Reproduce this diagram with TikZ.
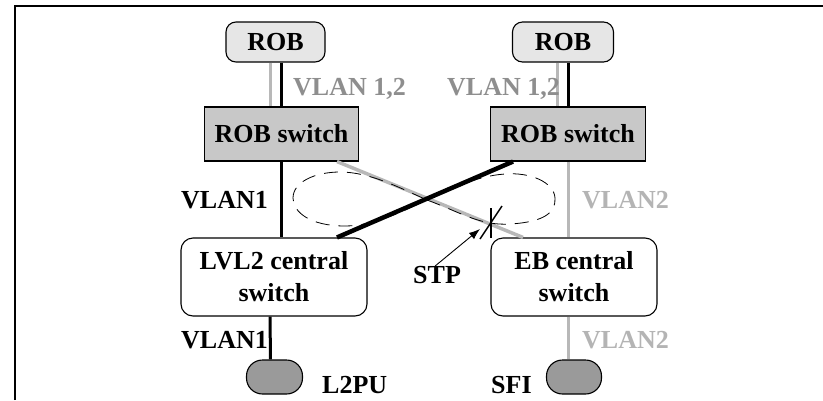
\documentclass[tikz,border=0pt]{standalone}
\usepackage{fontspec}
\setmainfont{Liberation Serif}
\usepackage{tikz}
\usetikzlibrary{calc}
\usetikzlibrary{arrows.meta}

\definecolor{robgray}{HTML}{E6E6E6}
\definecolor{swgray}{HTML}{C8C8C8}
\definecolor{pcgray}{HTML}{9A9A9A}
\definecolor{vlangray}{HTML}{B8B8B8}
\definecolor{labelgray}{HTML}{8E8E8E}
\definecolor{lightlabel}{HTML}{B4B4B4}

\tikzset{
  box/.style={draw,line width=1.1pt,inner sep=0pt,align=center,font=\fontsize{26}{32}\selectfont\bfseries},
  robbox/.style={box,fill=robgray,rounded corners=10pt,minimum height=40pt},
  switchbox/.style={box,fill=swgray,minimum height=54pt},
  centralbox/.style={box,fill=white,rounded corners=12pt,minimum height=78pt},
  pcbox/.style={draw,line width=1.1pt,fill=pcgray,rounded corners=16pt,minimum width=56pt,minimum height=34pt,inner sep=0pt},
  lbl/.style={inner sep=0pt,anchor=base west,font=\fontsize{26}{32}\selectfont\bfseries},
  vlanone/.style={line width=3pt},
  vlantwo/.style={line width=3pt,vlangray},
}

\begin{document}
\begin{tikzpicture}[x=1pt,y=-1pt]
\useasboundingbox (0,0) rectangle (823,400);
\draw[line width=1.5pt] (15,400) -- (15,6) -- (823,6);						% frame

\node[robbox,minimum width=99pt] (rob1) at (275.5,42) {ROB};				% ROB links
\node[robbox,minimum width=101pt] (rob2) at (563,42) {ROB};				% ROB rechts
\node[switchbox,minimum width=154pt] (rsw1) at (281.5,134) {ROB switch};		% ROB switch links
\node[switchbox,minimum width=155pt] (rsw2) at (568,134) {ROB switch};		% ROB switch rechts
\node[centralbox,minimum width=186pt] (lvl2) at (274,277) {LVL2 central\\switch};	% LVL2 central switch
\node[centralbox,minimum width=166pt] (eb) at (574,277) {EB central\\switch};		% EB central switch
\node[pcbox] (l2pu) at (274.5,377) {};									% L2PU
\node[pcbox,minimum width=55pt] (sfi) at (574,377) {};					% SFI

\draw[vlantwo] ([xshift=-5.5pt]rob1.south) -- ([xshift=-11.5pt]rsw1.north);		% ROB -> switch links
\draw[vlanone] ([xshift=5.5pt]rob1.south) -- ([xshift=-0.5pt]rsw1.north);
\draw[vlantwo] ([xshift=-6pt]rob2.south) -- ([xshift=-11pt]rsw2.north);			% ROB -> switch rechts
\draw[vlanone] ([xshift=5pt]rob2.south) -- (rsw2.north);
\draw[vlanone,line width=2.5pt] (rsw1.south) -- ([xshift=7.5pt]lvl2.north);		% VLAN1 senkrecht
\draw[vlantwo] (rsw2.south) -- ([xshift=-6pt]eb.north);						% VLAN2 senkrecht
\draw[vlantwo,line width=3.5pt] ([xshift=55.5pt]rsw1.south) -- ([xshift=-51pt]eb.north);	% VLAN2 diagonal
\draw[vlanone,line width=4.5pt] ([xshift=-55pt]rsw2.south) -- ([xshift=63pt]lvl2.north);	% VLAN1 diagonal
\draw[vlanone] ([xshift=-4pt]lvl2.south) -- ([xshift=-4pt]l2pu.north);			% LVL2 -> L2PU
\draw[vlantwo] ([xshift=-6pt]eb.south) -- ([xshift=-6pt]sfi.north);				% EB -> SFI

\node[lbl,labelgray] (v12a) at (293,95.5) {VLAN 1,2};
\node[lbl,labelgray] (v12b) at (447,95.5) {VLAN 1,2};
\node[lbl] (v1a) at (181,208.5) {VLAN1};
\node[lbl,lightlabel] (v2a) at (582,208.5) {VLAN2};
\node[lbl] (v1b) at (181,348.5) {VLAN1};
\node[lbl,lightlabel] (v2b) at (582,348.5) {VLAN2};
\node[lbl] (l2pulbl) at (322,393.5) {L2PU};
\node[lbl] (sfilbl) at (491,393.5) {SFI};
\node[lbl] (stp) at (413,283.5) {STP};

\coordinate (cross) at (427,200);										% Schleife
\draw[dash pattern=on 14pt off 9pt,line width=0.8pt] (cross)
  .. controls (460,212) and (480,226) .. (510,224)
  .. controls (545,222) and (556,212) .. (555,198)
  .. controls (554,182) and (530,172) .. (505,174)
  .. controls (475,176) and (450,190) .. (cross)
  .. controls (405,210) and (375,226) .. (345,226)
  .. controls (310,226) and (293,212) .. (293,198)
  .. controls (293,182) and (315,172) .. (340,172)
  .. controls (370,172) and (400,188) .. (cross);

\coordinate (cut) at (491,222);											% STP Unterbrechung
\draw[line width=1.5pt] ([yshift=14pt]cut) -- ([yshift=-16pt]cut);
\draw[line width=1.5pt] ([xshift=11pt,yshift=16pt]cut) -- ([xshift=-11pt,yshift=-17pt]cut);
\coordinate (stptip) at (480,229);
\draw[-{Latex[length=11pt,width=8pt]},line width=0.9pt] ([xshift=-2pt]stp.north) -- (stptip);

\end{tikzpicture}
\end{document}
